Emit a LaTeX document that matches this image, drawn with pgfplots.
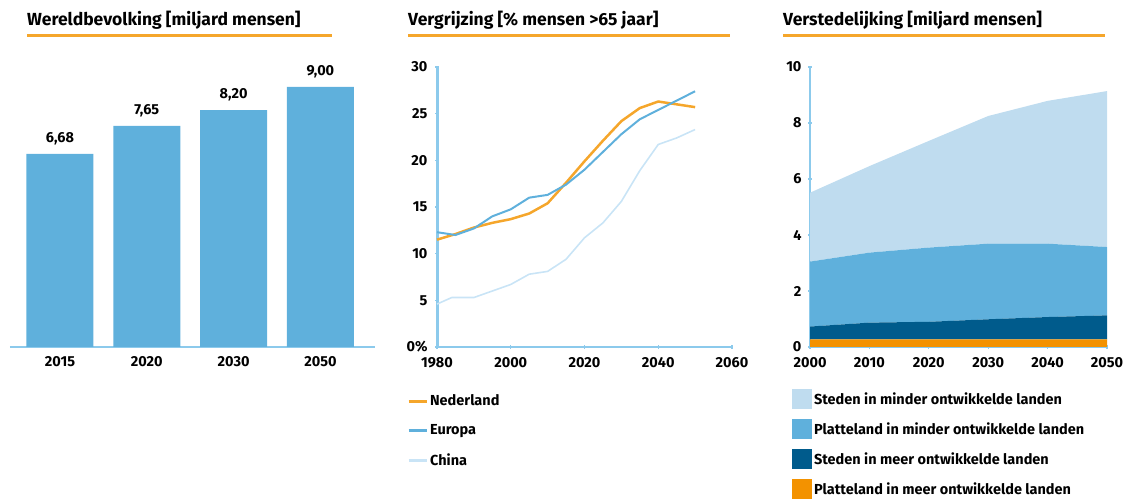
\documentclass[border=0pt]{standalone}
\usepackage{pgfplots}
\pgfplotsset{compat=1.18}
\usepackage{fontspec}
\setmainfont{Fira Sans}
\definecolor{barblue}{HTML}{5FB0DC}
\definecolor{lightblue}{HTML}{BFDCEF}
\definecolor{darkblue}{HTML}{005B8C}
\definecolor{orangeA}{HTML}{F39200}
\definecolor{orangeL}{HTML}{F5A62B}
\definecolor{axisblue}{HTML}{8CCAEC}
\definecolor{chinablue}{HTML}{C9E4F6}
\newcommand\lblfont{\bfseries\fontsize{14.5}{16}\selectfont}
\begin{document}
\begin{tikzpicture}
\useasboundingbox (0pt,0pt) rectangle (1126pt,500pt);
\pgfplotsset{
  every axis/.append style={
    font=\lblfont,
    /pgf/number format/assume math mode=true,
    scale only axis,
    anchor=south west,
    tick label style={font=\lblfont},
    x tick label style={/pgf/number format/1000 sep={}},
  }
}
% titles
\tikzset{ttl/.style={anchor=base west, inner sep=0pt, font=\bfseries\fontsize{17.5}{20}\selectfont}}
\node[ttl] at (27pt,474pt) {Wereldbevolking [miljard mensen]};
\node[ttl] at (408pt,474pt) {Vergrijzing [\% mensen >65 jaar]};
\node[ttl] at (783pt,474pt) {Verstedelijking [miljard mensen]};
\draw[orangeL, line width=3pt] (27pt,464pt) -- (332pt,464pt);
\draw[orangeL, line width=3pt] (408pt,464pt) -- (730pt,464pt);
\draw[orangeL, line width=3pt] (783pt,464pt) -- (1105pt,464pt);

% panel 1
\begin{axis}[at={(10pt,153pt)}, width=365pt, height=289pt,
  xmin=-0.576, xmax=3.629, ymin=0, ymax=10,
  axis x line*=bottom, hide y axis,
  x axis line style={axisblue, line width=2pt},
  xtick={0,1,2,3}, xticklabels={2015,2020,2030,2050},
  major tick length=0pt,
  xticklabel style={yshift=-6pt},
  clip=false]
\addplot[ybar, bar width=67pt, fill=barblue, draw=none,
  nodes near coords, point meta=explicit symbolic,
  nodes near coords style={font=\lblfont, anchor=south, yshift=5pt, text=black}]
  coordinates {(0,6.68)[6,68] (1,7.65)[7,65] (2,8.20)[8,20] (3,9.00)[9,00]};
\end{axis}

% panel 2
\begin{axis}[at={(437pt,153pt)}, width=295pt, height=280pt,
  xmin=1980, xmax=2060, ymin=0, ymax=30,
  axis x line*=bottom, axis y line*=left,
  x axis line style={axisblue, line width=2pt},
  y axis line style={axisblue, line width=3pt},
  tick style={axisblue, line width=1.2pt},
  major tick length=4pt, tick align=center,
  xtick={1980,2000,...,2060}, ytick={0,5,...,30},
  yticklabels={0\%,5,10,15,20,25,30},
  yticklabel style={xshift=-4pt},
  xticklabel style={yshift=-5pt},
  legend style={at={(-0.102,-0.163)}, anchor=north west, draw=none, fill=none,
    font=\lblfont, row sep=13.5pt, inner sep=0pt,
    cells={anchor=west}},
  legend image code/.code={\draw[#1, line width=3pt] (0pt,0pt) -- (18pt,0pt);},
  clip=false]
\addplot[orangeL, line width=2.5pt] coordinates {
(1980,11.5) (1985,12.1) (1990,12.8) (1995,13.3) (2000,13.7) (2005,14.3) (2010,15.4)
(2015,17.6) (2020,19.9) (2025,22.1) (2030,24.2) (2035,25.6) (2040,26.3) (2045,26.0) (2050,25.7)};
\addlegendentry{Nederland}
\addplot[barblue, line width=2pt] coordinates {
(1980,12.3) (1985,12.0) (1990,12.7) (1995,14.0) (2000,14.75) (2005,16.0) (2010,16.3)
(2015,17.4) (2020,19.0) (2025,20.9) (2030,22.8) (2035,24.4) (2040,25.4) (2045,26.4) (2050,27.4)};
\addlegendentry{Europa}
\addplot[chinablue, line width=1.6pt] coordinates {
(1980,4.6) (1984,5.3) (1990,5.3) (1995,6.0) (2000,6.7) (2005,7.8) (2010,8.1)
(2015,9.4) (2020,11.7) (2025,13.3) (2030,15.6) (2035,18.9) (2040,21.7) (2045,22.4) (2050,23.3)};
\addlegendentry{China}
\end{axis}

% panel 3
\begin{axis}[at={(810pt,153pt)}, width=297pt, height=280pt,
  xmin=2000, xmax=2050, ymin=0, ymax=10,
  axis x line*=bottom, axis y line*=left,
  x axis line style={axisblue, line width=1.5pt},
  y axis line style={axisblue, line width=2pt},
  tick style={axisblue, line width=1.2pt},
  major tick length=4pt, tick align=center,
  xtick={2000,2010,...,2050}, ytick={0,2,...,10},
  yticklabel style={xshift=-3pt},
  xticklabel style={yshift=-5pt},
  stack plots=y,
  reverse legend,
  legend style={at={(-0.061,-0.15)}, anchor=north west, draw=none, fill=none,
    font=\lblfont, row sep=10pt, inner sep=0pt,
    cells={anchor=west}},
  legend image code/.code={\fill[#1] (0pt,-10pt) rectangle (20pt,10pt);},
  clip=false]
\addplot[fill=orangeA, draw=none] coordinates {
(2000,0.27) (2010,0.27) (2020,0.27) (2030,0.27) (2040,0.27) (2050,0.27)} \closedcycle;
\addlegendentry{Platteland in meer ontwikkelde landen}
\addplot[fill=darkblue, draw=none] coordinates {
(2000,0.46) (2010,0.60) (2020,0.63) (2030,0.72) (2040,0.80) (2050,0.86)} \closedcycle;
\addlegendentry{Steden in meer ontwikkelde landen}
\addplot[fill=barblue, draw=none] coordinates {
(2000,2.32) (2010,2.50) (2020,2.65) (2030,2.70) (2040,2.62) (2050,2.44)} \closedcycle;
\addlegendentry{Platteland in minder ontwikkelde landen}
\addplot[fill=lightblue, draw=none] coordinates {
(2000,2.46) (2010,3.09) (2020,3.81) (2030,4.56) (2040,5.10) (2050,5.57)} \closedcycle;
\addlegendentry{Steden in minder ontwikkelde landen}
\end{axis}
\end{tikzpicture}
\end{document}
